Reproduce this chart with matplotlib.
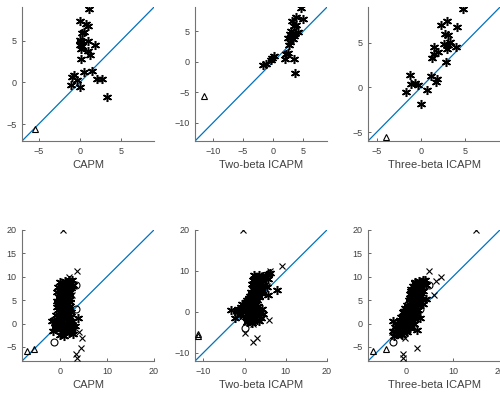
import matplotlib
matplotlib.use("Agg")
from matplotlib import pyplot as plt

plt.rcParams['font.family'] = ['Liberation Sans', 'DejaVu Sans']

model_names = ["CAPM", "Two-beta ICAPM", "Three-beta ICAPM"]
blue = "#0072BD"
ast = (6, 2, 0)

# ---- top row: portfolios (same actual returns on y, model predictions on x)
y_top = [8.8, 7.4, 7.0, 6.8, 6.0, 5.9, 5.1, 4.9, 4.8, 4.5, 4.5, 4.3, 4.0,
         3.7, 3.25, 2.8, 1.4, 1.25, 0.9, 0.65, 0.45, 0.4, 0.3, -0.3, -0.5, -1.8]
x_top_capm = [1.1, 0.05, 0.8, 1.0, 0.5, 0.3, 0.0, 1.0, 0.1, 1.9, 0.0, 0.25, 0.15,
              1.0, 1.3, 0.1, 1.5, 0.5, -0.7, -0.9, 2.65, 2.1, -0.35, -1.1, 0.05, 3.25]
x_top_two = [4.6, 3.75, 5.0, 3.1, 3.85, 3.45, 3.0, 4.15, 3.6, 3.3, 2.8, 3.5, 2.55,
             3.3, 2.9, 2.7, 2.55, 2.15, 0.15, -0.1, 3.45, 2.0, -0.4, -1.25, -1.65, 3.7]
x_top_three = [4.8, 2.95, 2.3, 4.1, 2.8, 3.05, 3.3, 2.6, 3.1, 4.0, 1.55, 3.0, 1.95,
               1.45, 1.25, 2.9, -1.2, 1.15, 1.85, 1.7, -0.65, -1.15, -0.35, 0.65, -1.7, 0.0]
y_top_tri = [-5.55]
x_top_tri = {"CAPM": [-5.45], "Two-beta ICAPM": [-11.5], "Three-beta ICAPM": [-4.0]}

# ---- bottom row: individual assets
y_star = [9.0, 8.8, 8.6, 8.4, 8.0, 7.8, 7.6, 7.4, 7.2, 7.0, 6.8, 6.6, 6.4, 6.2, 6.0,
          5.8, 5.6, 5.4, 5.2, 5.0, 4.8, 4.6, 4.4, 4.2, 4.0, 3.8, 3.6, 3.4, 3.2, 3.0,
          2.8, 2.6, 2.4, 2.2, 2.0, 1.8, 1.6, 1.4, 1.2, 1.0, 0.8, 0.6, 0.4, 0.2, 0.0,
          -0.2, -0.4, -0.6, -0.8, -1.0, -1.2, -1.4, -1.6, -1.8, -2.0, -2.4, 0.5, 5.3,
          1.1, 8.2, 9.2, 8.9,
          7.7, 7.1, 6.9, 6.5, 6.1, 5.7, 5.5, 5.1, 4.7, 4.3, 3.9, 3.5, 3.1, 2.7, 2.3,
          1.9, 1.5, 1.3, 0.9, 0.7, 0.3, 0.1, -0.3, -0.5, -0.9, -1.1, -1.5, -1.9, -2.2,
          -2.6, 9.4, 8.0]
x_star_capm = [1.2, 2.0, 0.5, 1.6, 0.9, -0.3, 2.4, 0.2, 1.0, 1.8, -0.5, 0.6, 1.4, 0.0, 2.1,
               0.8, -0.2, 1.2, 0.4, 1.7, -0.6, 0.9, 0.1, 1.5, 0.5, -0.1, 1.9, 0.7, 0.2, 1.3,
               -0.4, 0.8, 2.3, 0.3, 1.1, -0.8, 0.5, 1.6, 0.0, 0.9, -1.2, 2.7, 0.3, 1.4, -0.5,
               2.0, 0.6, 3.2, -1.0, 1.1, 0.2, 2.6, -1.5, 0.8, 1.9, 0.1, -1.6, 2.2,
               3.9, 2.8, 2.6, 0.1,
               0.7, 1.5, 0.3, 1.9, 0.6, 1.5, 0.1, 1.0, 2.2, -0.3, 1.2, -0.6, 2.0, 0.4, 1.5,
               0.2, 2.2, -0.4, 1.3, 0.1, 2.4, -1.1, 1.6, -0.2, 2.3, -0.7, 1.3, 0.4, 2.8,
               1.0, 1.9, 2.5]
x_star_two = [3.5, 4.5, 2.8, 5.2, 3.9, 2.1, 4.6, 3.2, 2.5, 4.0, 1.8, 3.0, 3.6, 2.4, 5.5,
              3.3, 2.0, 4.3, 2.7, 3.8, 1.5, 3.0, 2.2, 5.8, 2.6, 1.4, 3.4, 2.0, 1.1, 3.0,
              0.6, 2.4, 1.6, 0.9, 2.8, -0.5, 1.3, 3.3, 0.2, 1.9, -1.6, 4.2, 0.8, 2.5, -0.4,
              3.6, 1.2, 4.6, -1.2, 2.0, 0.3, 3.9, -2.3, 1.6, 3.0, 0.5, -3.2, 7.8,
              1.0, 4.8, 5.6, 2.3,
              2.9, 3.8, 2.3, 4.5, 2.9, 3.9, 2.4, 3.2, 4.0, 1.9, 3.6, 1.2, 2.3, 1.7, 0.4,
              2.2, 0.6, -0.9, 2.7, 0.0, 1.7, -1.8, 0.9, -0.8, 3.0, 1.1, 2.6, 0.8, 3.4,
              1.9, 6.3, 5.8]
x_star_three = [2.8, 3.4, 2.0, 3.9, 1.5, 2.6, 3.2, 1.1, 2.3, 3.6, 1.7, 2.9, 0.9, 2.1, 3.0,
                1.4, 2.5, 1.8, 3.4, 0.6, 2.0, 1.2, 2.7, 3.6, 0.3, 1.6, 2.2, -0.2, 1.0, 2.6,
                0.4, 1.8, -0.5, 0.8, 2.3, 0.1, 1.5, -0.8, 0.6, 2.0, -1.2, 1.2, -0.3, 0.9, -1.6,
                1.8, 0.2, -0.9, -2.2, 1.0, -0.4, 2.4, -2.6, 0.3, -1.4, -0.7, -2.8, 4.3,
                3.0, 4.3, 4.0, 1.9,
                2.0, 2.8, 1.2, 3.3, 1.6, 2.9, 1.0, 2.3, 3.0, 1.3, 2.5, 0.5, 1.6, -0.4, 1.1,
                0.0, -1.0, 0.9, -0.6, 0.4, -1.1, 0.5, -1.9, 0.7, -0.2, -1.4, 0.1, -2.0, -1.1,
                -2.4, 3.6, 2.9]

y_cross = [20.0, 11.3, 10.0, 9.0, 6.2, -1.9, -3.0, -5.2, -6.5, -7.3]
x_cross_capm = [0.8, 3.6, 2.0, 1.7, 2.5, 4.1, 4.7, 4.5, 3.4, 3.6]
x_cross_two = [-0.3, 9.1, 6.1, 4.8, 5.5, 6.0, 2.0, 0.2, 3.1, 2.0]
x_cross_three = [15.0, 4.9, 7.4, 6.5, 6.0, -3.0, -0.2, 2.3, -0.6, -0.6]

y_circ = [8.3, 3.2, -0.4, -4.0]
x_circ_capm = [3.5, 3.4, 2.9, -1.2]
x_circ_two = [4.4, 2.5, -1.9, 0.0]
x_circ_three = [5.0, 3.0, -1.0, -2.7]

y_tri = [-5.5, -5.9]
x_tri_capm = [-5.5, -6.9]
x_tri_two = [-11.2, -11.3]
x_tri_three = [-4.1, -7.0]

top_x = [x_top_capm, x_top_two, x_top_three]
bot_x = [(x_star_capm, x_cross_capm, x_circ_capm, x_tri_capm),
         (x_star_two, x_cross_two, x_circ_two, x_tri_two),
         (x_star_three, x_cross_three, x_circ_three, x_tri_three)]

top_lims = [(-7, 9), (-13, 9), (-6, 9)]
top_ticks = [[-5, 0, 5], [-10, -5, 0, 5], [-5, 0, 5]]
bot_lims = [(-8, 20), (-12, 20), (-8, 20)]
bot_ticks = [[-5, 0, 5, 10, 15, 20], [-10, 0, 10, 20], [-5, 0, 5, 10, 15, 20]]
bot_xticks = [[0, 10, 20], [-10, 0, 10, 20], [0, 10, 20]]

fig = plt.figure(figsize=(5, 3.95), dpi=100)
lefts = [0.044, 0.39, 0.736]


def style(ax, lim, xt, yt, name):
    ax.set_xlim(lim)
    ax.set_ylim(lim)
    ax.set_xticks(xt)
    ax.set_yticks(yt)
    for s in ["top", "right"]:
        ax.spines[s].set_visible(False)
    for s in ["left", "bottom"]:
        ax.spines[s].set_color("0.45")
        ax.spines[s].set_linewidth(0.8)
    ax.tick_params(direction="in", length=2.5, width=0.6, color="0.3",
                   labelsize=6.5, labelcolor="0.25", pad=4)
    ax.set_xlabel(name, fontsize=8, color="0.25", labelpad=3)


for i, name in enumerate(model_names):
    ax = fig.add_axes([lefts[i], 0.643, 0.264, 0.339])
    lim = top_lims[i]
    ax.plot(lim, lim, color=blue, lw=0.9, zorder=1)
    ax.plot(top_x[i], y_top, linestyle="none", marker=ast, ms=6.5, mew=1.1,
            color="black", zorder=3)
    ax.plot(x_top_tri[name], y_top_tri, linestyle="none", marker="^", ms=5,
            mfc="none", mec="black", mew=0.8, zorder=3)
    style(ax, lim, top_ticks[i], top_ticks[i], name)

for i, name in enumerate(model_names):
    ax = fig.add_axes([lefts[i], 0.086, 0.264, 0.332])
    lim = bot_lims[i]
    xs, xc, xo, xtr = bot_x[i]
    ax.plot(lim, lim, color=blue, lw=0.9, zorder=1)
    ax.plot(xs, y_star, linestyle="none", marker=ast, ms=6.5, mew=1.1,
            color="black", zorder=3)
    ax.plot(xc, y_cross, linestyle="none", marker="x", ms=5, mew=0.8,
            color="black", zorder=3)
    ax.plot(xo, y_circ, linestyle="none", marker="o", ms=5, mfc="none",
            mec="black", mew=0.8, zorder=3)
    ax.plot(xtr, y_tri, linestyle="none", marker="^", ms=5, mfc="none",
            mec="black", mew=0.8, zorder=3)
    style(ax, lim, bot_xticks[i], bot_ticks[i], name)

fig.savefig("out.png", dpi=100)
